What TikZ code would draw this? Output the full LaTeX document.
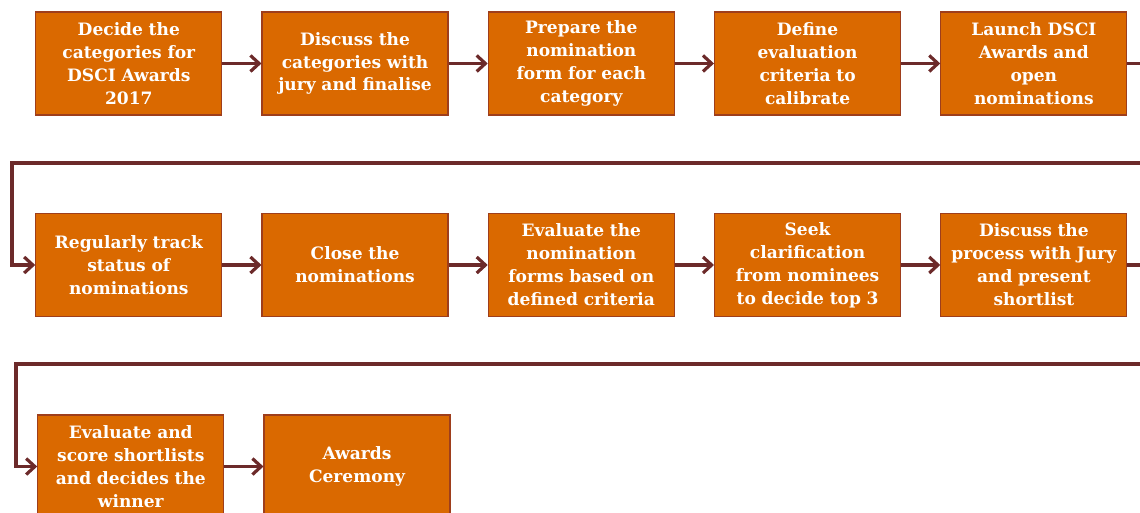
\documentclass[tikz,border=0pt]{standalone}
\usepackage{xcolor}
\usepackage{fontspec}
\setmainfont{DejaVu Serif}
\usepackage{tikz}
\usetikzlibrary{positioning,arrows.meta}

\definecolor{boxfill}{RGB}{218,105,0}
\definecolor{boxline}{RGB}{158,62,28}
\definecolor{flowcol}{RGB}{108,42,42}

\tikzset{
  stepbox/.style={draw=boxline, line width=0.9pt, fill=boxfill, text=white,
    minimum width=139.5pt, minimum height=77.25pt, text width=133pt,
    inner sep=0pt, align=center, font=\bfseries\fontsize{12.8}{17.2}\selectfont},
  flow/.style={draw=flowcol, line width=2.4pt, -{Straight Barb[length=6.5pt,width=12pt]}}
}

\begin{document}
\begin{tikzpicture}[node distance=73pt and 29.3pt]

\useasboundingbox (0,0) rectangle (855pt,-384pt);

% nodes %
\node[stepbox] (b1) at (96.6pt,-47.6pt) {Decide the\\categories for\\DSCI Awards\\2017};
\node[stepbox, right = of b1] (b2) {Discuss the\\categories with\\jury and finalise};
\node[stepbox, right = of b2] (b3) {Prepare the\\nomination\\form for each\\category};
\node[stepbox, right = of b3] (b4) {Define\\evaluation\\criteria to\\calibrate};
\node[stepbox, right = of b4] (b5) {Launch DSCI\\Awards and\\open\\nominations};

\node[stepbox, below = of b1] (c1) {Regularly track\\status of\\nominations};
\node[stepbox, right = of c1] (c2) {Close the\\nominations};
\node[stepbox, right = of c2] (c3) {Evaluate the\\nomination\\forms based on\\defined criteria};
\node[stepbox, right = of c3] (c4) {Seek\\clarification\\from nominees\\to decide top 3};
\node[stepbox, right = of c4] (c5) {Discuss the\\process with Jury\\and present\\shortlist};

\node[stepbox, below = of c1, xshift=1.5pt] (d1) {Evaluate and\\score shortlists\\and decides the\\winner};
\node[stepbox, right = of d1] (d2) {Awards\\Ceremony};

% turns %
\coordinate (r1l) at (9pt,-122.25pt);
\coordinate (r1r) at (880pt,-122.25pt);
\coordinate (r2l) at (12pt,-273pt);
\coordinate (r2r) at (880pt,-273pt);

% edges %

%row 1%
\draw[flow] (b1) -- (b2);
\draw[flow] (b2) -- (b3);
\draw[flow] (b3) -- (b4);
\draw[flow] (b4) -- (b5);
\draw[flow] (b5.east) -| (r1r) -- (r1l) |- (c1.west);

%row 2%
\draw[flow] (c1) -- (c2);
\draw[flow] (c2) -- (c3);
\draw[flow] (c3) -- (c4);
\draw[flow] (c4) -- (c5);
\draw[flow] (c5.east) -| (r2r) -- (r2l) |- (d1.west);

%row 3%
\draw[flow] (d1) -- (d2);

\end{tikzpicture}
\end{document}
